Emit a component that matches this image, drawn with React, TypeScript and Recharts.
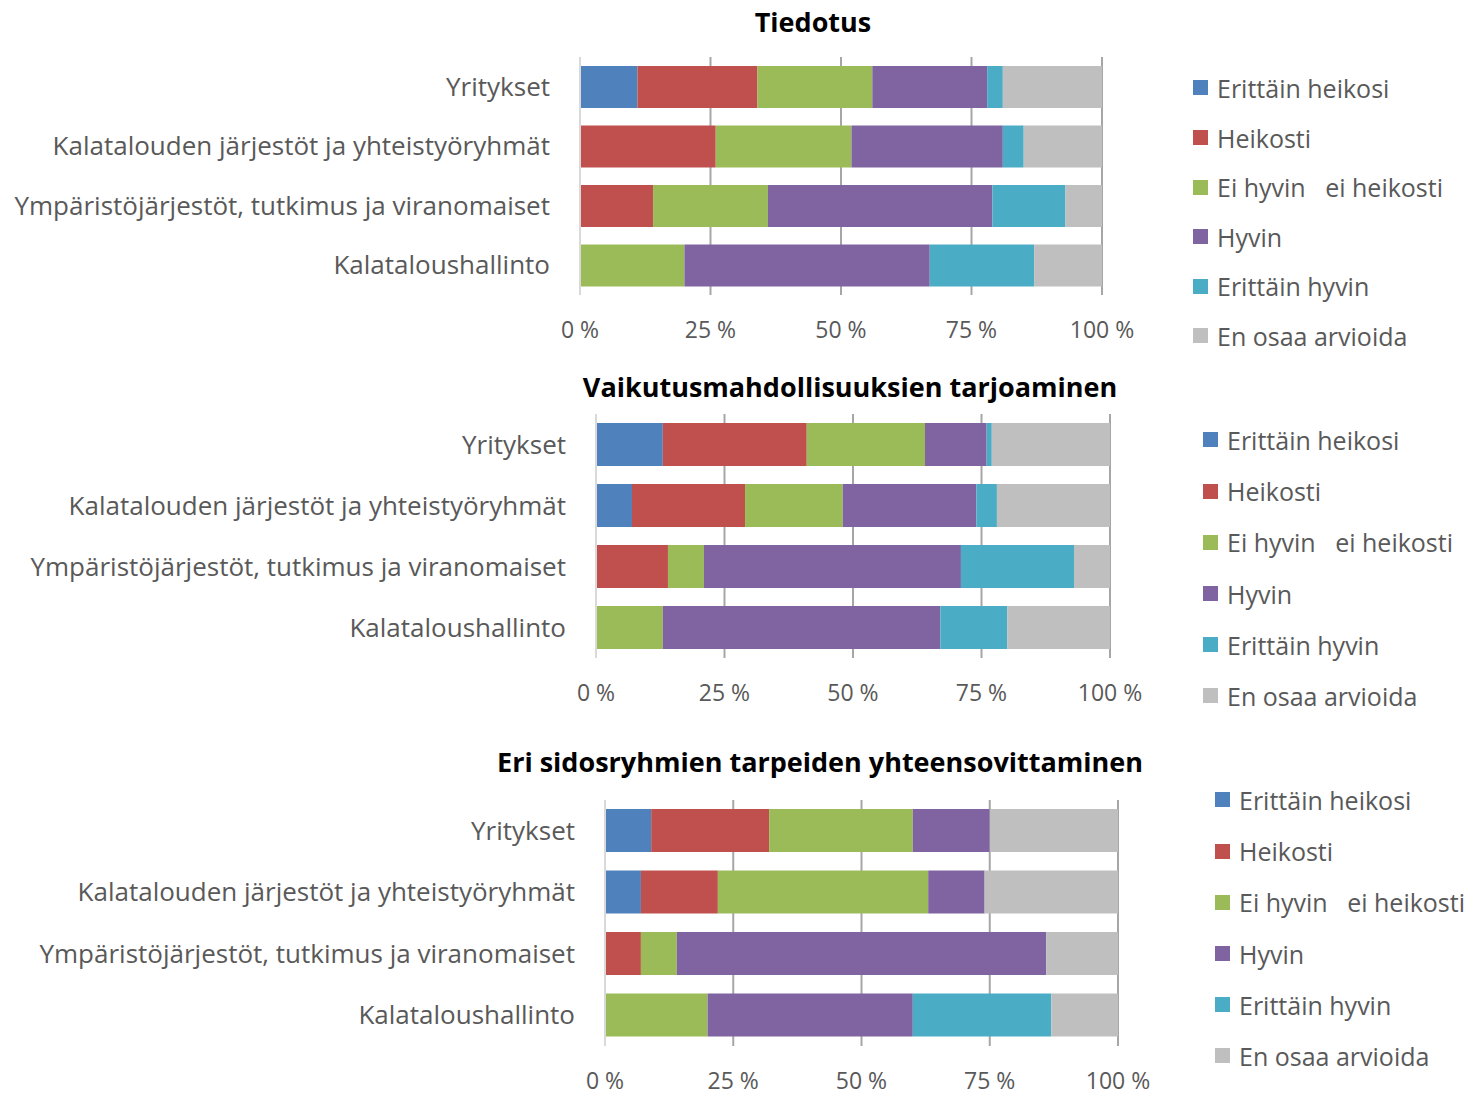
import { BarChart, Bar, XAxis, YAxis, CartesianGrid } from "recharts";

const categories = [
  "Yritykset",
  "Kalatalouden järjestöt ja yhteistyöryhmät",
  "Ympäristöjärjestöt, tutkimus ja viranomaiset",
  "Kalataloushallinto",
];

const seriesNames = [
  "Erittäin heikosi",
  "Heikosti",
  "Ei hyvin   ei heikosti",
  "Hyvin",
  "Erittäin hyvin",
  "En osaa arvioida",
];

const seriesColors = ["#4f81bd", "#c0504d", "#9bbb59", "#8064a2", "#4bacc6", "#bfbfbf"];

const percentTicks = [0, 25, 50, 75, 100];

// one row per series, one value per category (%)
const tiedotusValues = [
  [11, 0, 0, 0],
  [23, 26, 14, 0],
  [22, 26, 22, 20],
  [22, 29, 43, 47],
  [3, 4, 14, 20],
  [19, 15, 7, 13],
];

const vaikutusValues = [
  [13, 7, 0, 0],
  [28, 22, 14, 0],
  [23, 19, 7, 13],
  [12, 26, 50, 54],
  [1, 4, 22, 13],
  [23, 22, 7, 20],
];

const yhteensovitusValues = [
  [9, 7, 0, 0],
  [23, 15, 7, 0],
  [28, 41, 7, 20],
  [15, 11, 72, 40],
  [0, 0, 0, 27],
  [25, 26, 14, 13],
];

const TEXT = "#595959";

type ChartCfg = {
  title: string;
  values: number[][];
  titleX: number;
  titleY: number;
  top: number;
  plotLeft: number;
  plotRight: number;
  plotTop: number;
  plotBottom: number;
  barSize: number;
  legendX: number;
  legendY: number;
  legendStep: number;
};

function StackedChart({ cfg }: { cfg: ChartCfg }) {
  const data = categories.map((name, i) => {
    const row: Record<string, string | number> = { name };
    seriesNames.forEach((_, j) => {
      row["s" + j] = cfg.values[j][i];
    });
    return row;
  });

  const axisHeight = 60;
  const width = cfg.plotRight + 60;
  const height = cfg.plotBottom - cfg.top + axisHeight;

  return (
    <>
      {/* Title */}
      <div
        style={{
          position: "absolute",
          left: cfg.titleX - 400,
          width: 800,
          top: cfg.titleY - 19,
          lineHeight: "38px",
          textAlign: "center",
          fontWeight: 700,
          fontSize: 27,
          color: "#000",
        }}
      >
        {cfg.title}
      </div>

      <div style={{ position: "absolute", left: 0, top: cfg.top }}>
        <BarChart
          width={width}
          height={height}
          data={data}
          layout="vertical"
          barSize={cfg.barSize}
          margin={{ top: cfg.plotTop - cfg.top, right: width - cfg.plotRight, bottom: 0, left: 0 }}
        >
          <CartesianGrid horizontal={false} stroke="#a6a6a6" strokeWidth={2} />
          <XAxis
            type="number"
            domain={[0, 100]}
            ticks={percentTicks}
            tickFormatter={(v) => `${v} %`}
            axisLine={false}
            tickLine={false}
            tickSize={0}
            tickMargin={27}
            height={axisHeight}
            tick={{ fill: TEXT, fontSize: 23 }}
            interval={0}
          />
          <YAxis
            type="category"
            dataKey="name"
            width={cfg.plotLeft}
            axisLine={{ stroke: "#d9d9d9", strokeWidth: 2 }}
            tickLine={false}
            tickSize={0}
            tickMargin={30}
            tick={{ fill: TEXT, fontSize: 26 }}
            interval={0}
          />
          {seriesNames.map((s, j) => (
            <Bar
              key={s}
              dataKey={"s" + j}
              name={s}
              stackId="a"
              fill={seriesColors[j]}
              isAnimationActive={false}
            />
          ))}
        </BarChart>
      </div>

      {/* Legend */}
      <div style={{ position: "absolute", left: cfg.legendX, top: cfg.legendY - cfg.legendStep / 2 }}>
        {seriesNames.map((s, j) => (
          <div
            key={s}
            style={{ display: "flex", alignItems: "center", height: cfg.legendStep }}
          >
            <span
              style={{ width: 15, height: 15, background: seriesColors[j], marginRight: 9, flex: "none" }}
            />
            <span style={{ fontSize: 25, color: TEXT, whiteSpace: "pre" }}>{s}</span>
          </div>
        ))}
      </div>
    </>
  );
}

const charts: ChartCfg[] = [
  {
    title: "Tiedotus",
    values: tiedotusValues,
    titleX: 813, titleY: 22, top: 40,
    plotLeft: 580, plotRight: 1102, plotTop: 57, plotBottom: 295,
    barSize: 42,
    legendX: 1193, legendY: 88, legendStep: 49.6,
  },
  {
    title: "Vaikutusmahdollisuuksien tarjoaminen",
    values: vaikutusValues,
    titleX: 850, titleY: 387, top: 405,
    plotLeft: 596, plotRight: 1110, plotTop: 414, plotBottom: 658,
    barSize: 43,
    legendX: 1203, legendY: 440, legendStep: 51.2,
  },
  {
    title: "Eri sidosryhmien tarpeiden yhteensovittaminen",
    values: yhteensovitusValues,
    titleX: 820, titleY: 762, top: 785,
    plotLeft: 605, plotRight: 1118, plotTop: 800, plotBottom: 1046,
    barSize: 43,
    legendX: 1215, legendY: 800, legendStep: 51.2,
  },
];

export default function App() {
  return (
    <div
      style={{
        position: "relative",
        width: 1473,
        height: 1093,
        background: "#fff",
        fontFamily: "'Open Sans', 'Noto Sans', sans-serif",
        overflow: "hidden",
      }}
    >
      <style>{"body{margin:0}"}</style>
      {charts.map((c) => (
        <StackedChart key={c.title} cfg={c} />
      ))}
    </div>
  );
}
